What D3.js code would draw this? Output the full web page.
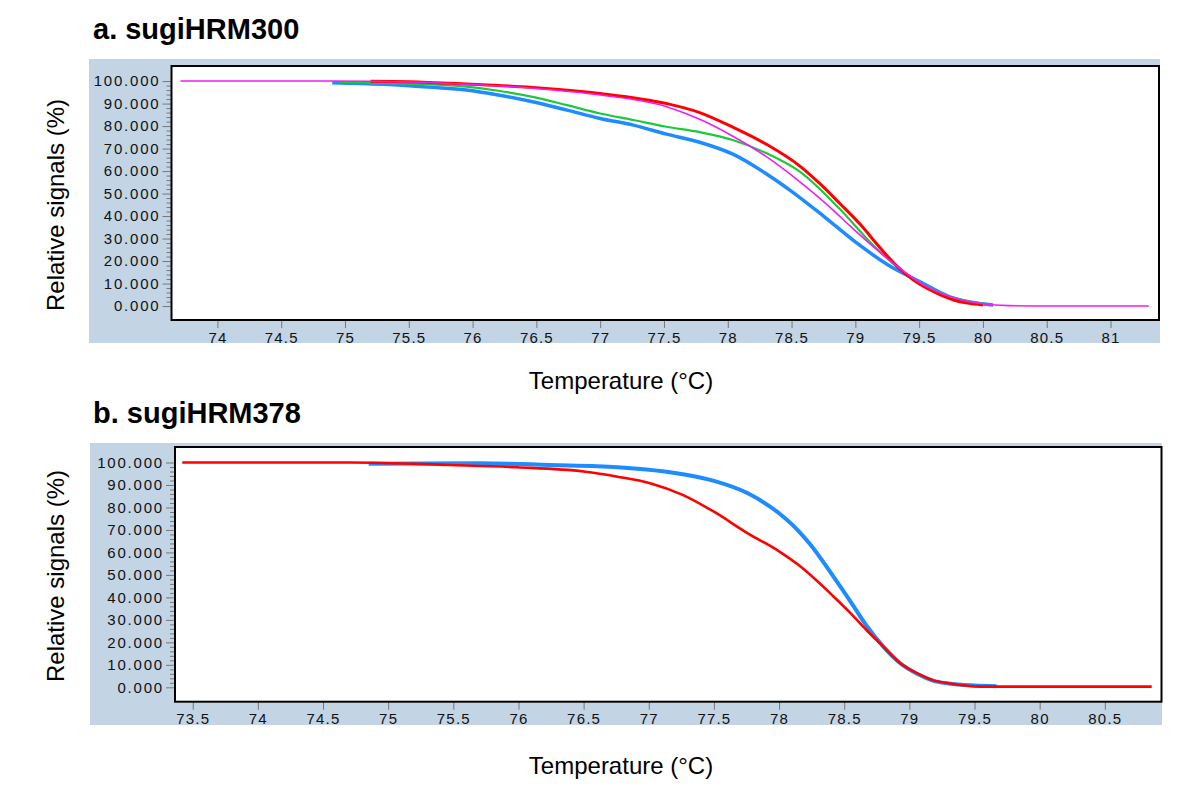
<!DOCTYPE html>
<html><head><meta charset="utf-8">
<script src="https://cdn.jsdelivr.net/npm/d3@7"></script>
<style>
body{margin:0;background:#fff;}
svg{display:block;font-family:"Liberation Sans",Arial,sans-serif;}
</style></head>
<body>
<svg id="c" width="1200" height="795"></svg>
<script>
// ---------- data ----------
const yTicks = [0,10,20,30,40,50,60,70,80,90,100];
const xTicksA = [74,74.5,75,75.5,76,76.5,77,77.5,78,78.5,79,79.5,80,80.5,81];
const xTicksB = [73.5,74,74.5,75,75.5,76,76.5,77,77.5,78,78.5,79,79.5,80,80.5];

// Panel a: sugiHRM300  [temperature, relative signal]
const aBlue = [[74.9,99.3],[75.3,98.6],[75.69,97.2],[75.95,96],[76.2,93.8],[76.47,90.8],[76.74,87.1],[77.0,83.4],[77.26,80.4],[77.52,76.4],[77.78,72.8],[78.04,67.5],[78.31,58.5],[78.5,51],[78.75,40],[79.0,28.5],[79.25,18.5],[79.5,11],[79.74,4.1],[79.96,1.2],[80.08,0.5]];
const aGreen = [[74.95,99.6],[75.5,98.8],[75.95,97.5],[76.2,95.7],[76.47,93],[76.74,89.3],[77.0,85.6],[77.26,82.7],[77.52,79.7],[77.78,77.3],[78.04,73.8],[78.3,68],[78.57,59.5],[78.88,43],[79.14,27],[79.33,17.3],[79.5,10.5],[79.75,4],[79.95,1.5],[80.05,0.5]];
const aRed = [[75.2,99.9],[75.5,99.7],[75.95,98.7],[76.47,97.2],[77.0,94.5],[77.52,90],[77.78,86],[78.04,79.5],[78.3,72],[78.57,62],[78.72,54.5],[78.88,45.5],[79.04,36.2],[79.17,27.5],[79.33,17.5],[79.45,11.8],[79.61,6.5],[79.77,2.7],[79.88,1.3],[80.0,0.5]];
const aMagenta = [[73.71,100],[74.9,100],[75.5,99.6],[75.95,98.6],[76.47,96.8],[77.0,93.8],[77.52,88.6],[77.78,83],[78.04,75.5],[78.3,66.5],[78.57,55],[78.8,44],[78.96,35.5],[79.14,26.4],[79.33,17.5],[79.5,10.5],[79.75,4],[80.0,1],[80.2,0.2],[80.5,0],[81.3,0]];

// Panel b: sugiHRM378
const bBlue = [[74.85,99.5],[75.7,99.7],[76.24,98.9],[76.76,97.9],[77.26,94.8],[77.5,91.8],[77.76,86.3],[78.0,77.4],[78.15,69.5],[78.24,63.5],[78.42,49],[78.55,38],[78.67,27.5],[78.8,18.1],[78.93,10.7],[79.06,6],[79.18,3],[79.3,1.7],[79.5,0.8],[79.67,0.5]];
const bRed = [[73.42,100],[74.71,100],[75.47,98.9],[75.99,97.9],[76.5,96],[76.76,93.7],[77.01,90.8],[77.26,85.6],[77.5,78.1],[77.76,68.5],[78.0,60.5],[78.15,54.4],[78.42,40.3],[78.55,32.9],[78.67,25.5],[78.8,18.1],[78.93,10.7],[79.06,6.2],[79.18,3.2],[79.3,1.8],[79.56,0.3],[80.86,0.3]];

const panels = [
  {title:"a. sugiHRM300", titleY:39, bg:[89,59,1160,343], box:[171.5,66,1159,320],
   xDom:[73.64,81.38], yDom:[-6.2,106.7], xTicks:xTicksA, xTitleY:389, yTitleY:205,
   series:[{d:aBlue,c:"#1e8cff",w:3.5},{d:aGreen,c:"#1ec83c",w:2.2},{d:aRed,c:"#ff0000",w:3},{d:aMagenta,c:"#f01ef0",w:1.6}]},
  {title:"b. sugiHRM378", titleY:423, bg:[90,443,1162,725], box:[175,447,1161.5,701.7],
   xDom:[73.364,80.935], yDom:[-6.4,106.9], xTicks:xTicksB, xTitleY:774, yTitleY:576,
   series:[{d:bBlue,c:"#1e8cff",w:4},{d:bRed,c:"#ff0000",w:2.6}]}
];

const svg = d3.select("#c");
const fmt = d3.format(".3f");

panels.forEach(p=>{
  const [bx0,by0,bx1,by1] = p.bg;
  const [x0,y0,x1,y1] = p.box;
  svg.append("rect").attr("x",bx0).attr("y",by0).attr("width",bx1-bx0).attr("height",by1-by0).attr("fill","#c3d5e5");
  svg.append("rect").attr("x",x0).attr("y",y0).attr("width",x1-x0).attr("height",y1-y0).attr("fill","#fff");

  const x = d3.scaleLinear().domain(p.xDom).range([x0,x1]);
  const y = d3.scaleLinear().domain(p.yDom).range([y1,y0]);

  const minor = d3.range(0,101,2).filter(v=>v%10!==0);
  svg.append("g").attr("transform",`translate(${x0},0)`)
    .call(d3.axisLeft(y).tickValues(minor).tickSize(5).tickFormat(""))
    .call(g=>{g.select(".domain").remove(); g.selectAll("line").attr("stroke","#777");});
  svg.append("g").attr("transform",`translate(${x0},0)`)
    .call(d3.axisLeft(y).tickValues(yTicks).tickSize(9).tickPadding(2).tickFormat(fmt))
    .call(g=>{g.select(".domain").remove(); g.selectAll("line").attr("stroke","#777");
      g.selectAll("text").attr("font-size",15).attr("fill","#111").attr("letter-spacing","1.8px")
       .attr("font-family","'Liberation Sans',Arial,sans-serif");});
  svg.append("g").attr("transform",`translate(0,${y1})`)
    .call(d3.axisBottom(x).tickValues(p.xTicks).tickSize(8).tickPadding(4).tickFormat(d=>String(d)))
    .call(g=>{g.select(".domain").remove(); g.selectAll("line").attr("stroke","#777");
      g.selectAll("text").attr("font-size",15).attr("fill","#111").attr("letter-spacing","1.2px")
       .attr("font-family","'Liberation Sans',Arial,sans-serif");});

  const clipId = "clip"+p.titleY;
  svg.append("clipPath").attr("id",clipId).append("rect").attr("x",x0).attr("y",y0).attr("width",x1-x0).attr("height",y1-y0);
  const line = d3.line().x(d=>x(d[0])).y(d=>y(d[1])).curve(d3.curveMonotoneX);
  const lg = svg.append("g").attr("clip-path",`url(#${clipId})`);
  p.series.forEach(s=>{
    lg.append("path").attr("d",line(s.d)).attr("fill","none").attr("stroke",s.c).attr("stroke-width",s.w);
  });

  svg.append("rect").attr("x",x0).attr("y",y0).attr("width",x1-x0).attr("height",y1-y0)
    .attr("fill","none").attr("stroke","#000").attr("stroke-width",2);

  svg.append("text").attr("x",93).attr("y",p.titleY).attr("font-size",29).attr("font-weight","bold")
    .attr("fill","#000").text(p.title);
  svg.append("text").attr("x",621).attr("y",p.xTitleY).attr("text-anchor","middle").attr("font-size",24)
    .attr("fill","#000").text("Temperature (°C)");
  svg.append("text").attr("transform",`translate(64,${p.yTitleY}) rotate(-90)`).attr("text-anchor","middle")
    .attr("font-size",24).attr("fill","#000").text("Relative signals (%)");
});
</script>
</body></html>
